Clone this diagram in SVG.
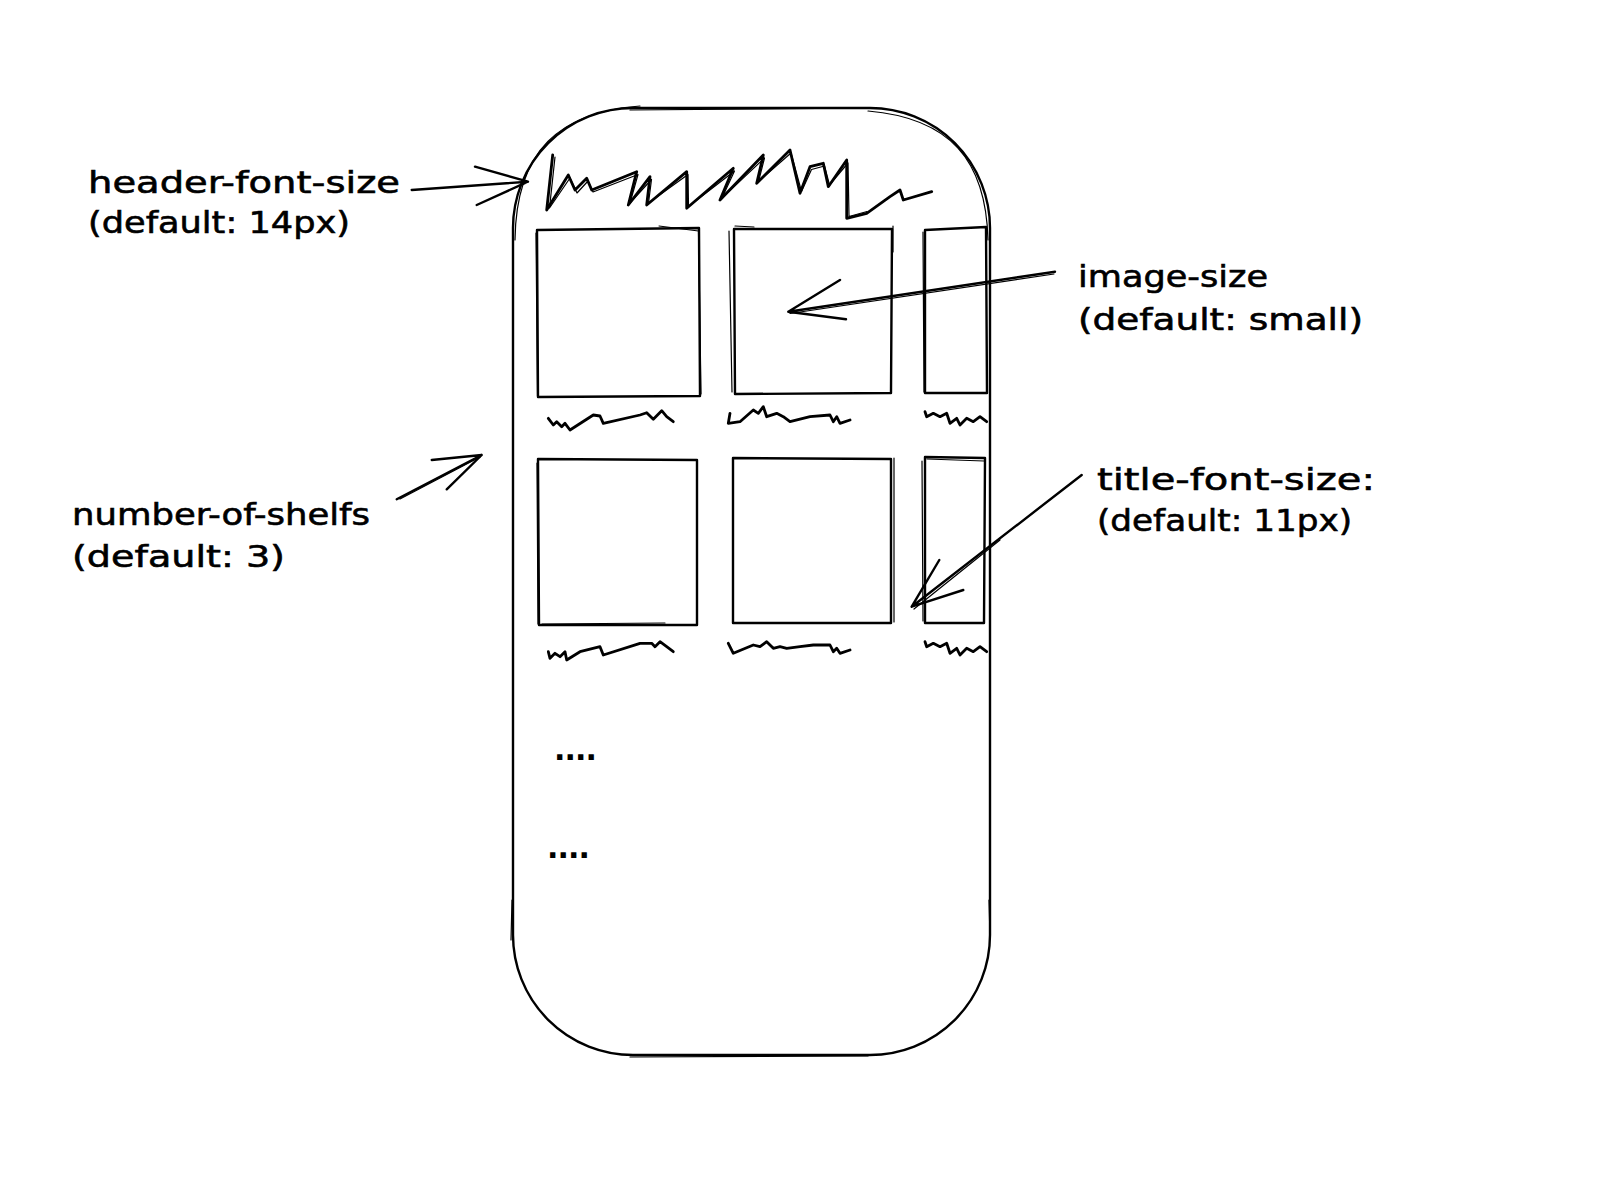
<svg xmlns="http://www.w3.org/2000/svg" width="1600" height="1201" viewBox="0 0 1600 1201">
<style>
.ln{fill:none;stroke:#000;stroke-width:2.4;stroke-linecap:round;stroke-linejoin:round}
.th{fill:none;stroke:#000;stroke-width:1.2;stroke-linecap:round;stroke-linejoin:round}
.sq{fill:none;stroke:#000;stroke-width:2.8;stroke-linecap:round;stroke-linejoin:round}
.lbl{font-family:"DejaVu Sans","Liberation Sans",sans-serif;font-size:31px;fill:#000;stroke:#000;stroke-width:0.6}
.dots{font-family:"DejaVu Sans",sans-serif;font-size:30px;font-weight:bold;fill:#000}
</style>
<rect width="1600" height="1201" fill="#fff"/>

<g id="phone">
  <rect class="ln" x="513" y="108" width="477" height="947" rx="120" ry="120"/>
  <path class="th" d="M515,240 C516,150 560,112 640,106 M630,110 L872,108 M868,111 C950,118 986,160 988,240 M512,900 L511,940 M989,900 L990,936 M630,1057 L868,1056"/>
</g>

<g id="header-scribble">
  <path class="sq" d="M552.7,155 L546.7,210 L568.3,175 L575,190 L586.7,178.3 L591.7,190 L636.7,171.7 L628.3,205 L650,176.7 L646.7,205 L686.7,171.7 L686.7,208.3 L733.3,168.3 L720,200 L763.3,155 L756.7,183.3 L790,150 L800,193.3 L810,166.7 L823.3,163.3 L828.3,186.7 L846.7,160 L846.7,218.3 L866.7,213.3 L890,196.7 L900,190 L903.3,200 L931.7,191.7"/>
  <path class="th" d="M555,157 L549.5,208 L570,178 L577,193 L588,181 L593,192 L638,174.5 L630,203 L651.5,179.5 L648.5,203 L688,174.5 L688.5,206.5 L734.5,171 L722,198 L764.5,158 L758.5,181.5 L791,153 L801.5,191.5 L811.5,169.5 L824.5,166 L829.5,185 L848,163 L849,216.5 L867,211.5"/>
</g>

<g id="shelf-1-item-1">
  <path class="ln" d="M537,230 L699,228 L700,396 L538,397 Z"/>
  <path class="th" d="M536,233 L537.5,396 M659,226 L698.5,231 L701,394"/>
</g>
<g id="shelf-1-item-2">
  <path class="ln" d="M734,229 L892,229 L891,393 L735,394 Z"/>
  <path class="th" d="M729,231 L732,392 M735,226 L754,227 M893,226 L893,252"/>
</g>
<g id="shelf-1-item-3">
  <path class="ln" d="M925,230 L986,227 L987,393 L925,393 Z"/>
  <path class="th" d="M923,232 L924,392"/>
</g>

<g id="shelf-2-item-1">
  <path class="ln" d="M538,459 L697,460 L697,625 L539,625 Z"/>
  <path class="th" d="M537,463 L538,624 M542,624 L665,623"/>
</g>
<g id="shelf-2-item-2">
  <path class="ln" d="M733,458 L891,459 L891,623 L733,623 Z"/>
  <path class="th" d="M894,458 L894,622"/>
</g>
<g id="shelf-2-item-3">
  <path class="ln" d="M925,457 L985,458 L984,623 L925,623 Z"/>
  <path class="th" d="M922,461 L923,621 M927,459 L984,461"/>
</g>

<g id="captions">
  <path class="sq" d="M548.3,418.3 L553.3,425 L556.7,421.7 L561.7,426.7 L565,423.3 L570,430 L593.3,415 L600,416 L603.3,423.3 L640,415 L646.7,412.7 L653.3,419.3 L661.7,410.7 L666.7,416.7 L673.3,421.7"/>
  <path class="sq" d="M730,413.3 L728.3,423.3 L740,421.7 L753.3,410 L758.3,413.3 L763.3,406.7 L766.7,416.7 L776.7,413.3 L783.3,416.7 L790,421.7 L810,416.7 L830,415 L833.3,421.7 L836.7,416.7 L840,423.3 L850,420"/>
  <path class="sq" d="M925,411.7 L926.7,416.7 L933.3,413.3 L940,416.7 L946.7,413.3 L950,423.3 L956.7,418.3 L960,425 L966.7,418.3 L973.3,421.7 L980,416.7 L986.7,421.7"/>
  <path class="sq" d="M548.3,651.7 L550,658.3 L555,653.3 L560,656.7 L565,651.7 L566.7,660 L580,651.7 L600,646.7 L603.3,655 L640,643.3 L651.7,643.3 L655,646.7 L660,641.7 L666.7,646.7 L673.3,651.7"/>
  <path class="sq" d="M728.3,643.3 L733.3,653.3 L753.3,645 L760,646.7 L766.7,641.7 L773.3,648.3 L780,646.7 L786.7,648.3 L800,646.7 L813.3,645 L830,645 L833.3,651.7 L836.7,648.3 L840,653.3 L850,650"/>
  <path class="sq" d="M925,641.7 L926.7,646.7 L933.3,643.3 L940,646.7 L946.7,643.3 L950,653.3 L956.7,648.3 L960,655 L966.7,648.3 L973.3,651.7 L980,646.7 L986.7,651.7"/>
</g>

<g id="ellipses">
  <text class="dots" x="554" y="760" textLength="43">....</text>
  <text class="dots" x="547" y="858" textLength="43">....</text>
</g>

<g id="connectors">
  <path class="ln" d="M411.7,190 L528,181.7 M475,166.7 L528,181.7 L476.7,205"/>
  <path class="ln" d="M1055,271.7 L788.3,311.7 M840,280 L788.3,311.7 L846,319.3"/>
  <path class="th" d="M1054,274 L790,313.5"/>
  <path class="ln" d="M396.7,499.3 L481.7,455 M431.7,460 L481.7,455 L446.7,489.3"/>
  <path class="th" d="M400,499 L480,457"/>
  <path class="ln" d="M1081.7,475 L911.7,606.7 M939.3,560 L911.7,606.7 L963.3,590"/>
  <path class="th" d="M1000,540 L914,609"/>
</g>

<g id="label-header-font-size">
  <text class="lbl" x="88" y="193" textLength="312" lengthAdjust="spacingAndGlyphs">header-font-size</text>
  <text class="lbl" x="88" y="233" textLength="262" lengthAdjust="spacingAndGlyphs">(default: 14px)</text>
</g>
<g id="label-image-size">
  <text class="lbl" x="1078" y="287" textLength="190" lengthAdjust="spacingAndGlyphs">image-size</text>
  <text class="lbl" x="1078" y="330" textLength="285" lengthAdjust="spacingAndGlyphs">(default: small)</text>
</g>
<g id="label-number-of-shelfs">
  <text class="lbl" x="72" y="525" textLength="298" lengthAdjust="spacingAndGlyphs">number-of-shelfs</text>
  <text class="lbl" x="72" y="567" textLength="213" lengthAdjust="spacingAndGlyphs">(default: 3)</text>
</g>
<g id="label-title-font-size">
  <text class="lbl" x="1097" y="490" textLength="278" lengthAdjust="spacingAndGlyphs">title-font-size:</text>
  <text class="lbl" x="1097" y="531" textLength="255" lengthAdjust="spacingAndGlyphs">(default: 11px)</text>
</g>
</svg>
